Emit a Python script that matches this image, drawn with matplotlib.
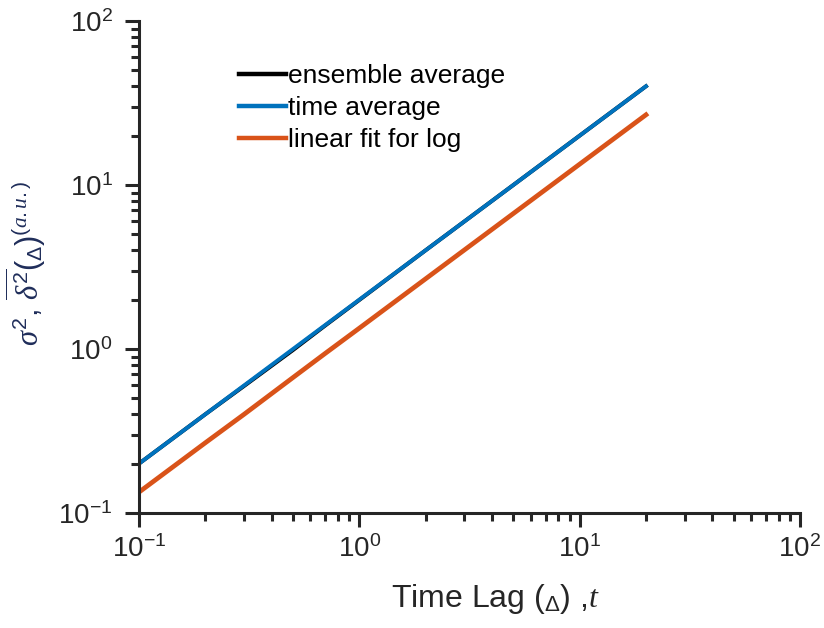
import matplotlib
matplotlib.use("Agg")
from matplotlib import pyplot as plt

# Values
time_lag = [0.1, 0.2, 0.3, 0.5, 0.7, 1.0, 2.0, 5.0, 10.0, 20.0]
ensemble_avg = [0.2, 0.40, 0.595, 0.985, 1.39, 1.99, 4.0, 10.0, 20.0, 40.0]
time_avg = [0.2, 0.40, 0.60, 1.0, 1.40, 2.0, 4.0, 10.0, 20.0, 40.0]
linear_fit = [0.134, 0.268, 0.40, 0.67, 0.94, 1.34, 2.68, 6.7, 13.4, 26.8]

series_labels = ["ensemble average", "time average", "linear fit for log"]
series_colors = ["black", "#0072BD", "#D95319"]

plt.rcParams["font.family"] = ["Liberation Sans", "DejaVu Sans"]
plt.rcParams["mathtext.fontset"] = "custom"
plt.rcParams["mathtext.rm"] = "Liberation Sans"
plt.rcParams["mathtext.it"] = "Liberation Serif:italic"
plt.rcParams["mathtext.bf"] = "Liberation Sans:bold"

fig_w_px, fig_h_px, dpi = 824, 628, 100
fig = plt.figure(figsize=(fig_w_px / dpi, fig_h_px / dpi), dpi=dpi)

# axes box in pixels: left, right, top, bottom
left_px, right_px, top_px, bottom_px = 139, 800, 21, 513
ax = fig.add_axes((
    left_px / fig_w_px,
    (fig_h_px - bottom_px) / fig_h_px,
    (right_px - left_px) / fig_w_px,
    (bottom_px - top_px) / fig_h_px,
))

ax.plot(time_lag, ensemble_avg, color=series_colors[0], linewidth=2.8,
        label=series_labels[0])
ax.plot(time_lag, time_avg, color=series_colors[1], linewidth=2.8,
        label=series_labels[1])
ax.plot(time_lag, linear_fit, color=series_colors[2], linewidth=3.4,
        label=series_labels[2])

ax.set_xscale("log")
ax.set_yscale("log")
ax.set_xlim(0.1, 100)
ax.set_ylim(0.1, 100)

# MATLAB-like box off, thick axes
for side in ("top", "right"):
    ax.spines[side].set_visible(False)
for side in ("left", "bottom"):
    ax.spines[side].set_linewidth(2.2)
    ax.spines[side].set_color("#262626")

ax.tick_params(which="major", direction="out", length=10, width=2.2,
               labelsize=20, colors="#262626")
ax.tick_params(which="minor", direction="out", length=5.5, width=2.2,
               colors="#262626")
ax.tick_params(axis="x", which="major", pad=6)
ax.tick_params(axis="y", which="major", pad=9)

leg = ax.legend(loc="upper left", bbox_to_anchor=(0.151, 0.912), frameon=False,
                fontsize=19, handlelength=1.8, handletextpad=0.08,
                labelspacing=0.3, borderaxespad=0, borderpad=0)
for line in leg.get_lines():
    line.set_linewidth(3.2)

fig.text(495 / fig_w_px, 1 - 599 / fig_h_px,
         r"Time Lag $\mathit{(}_{\mathrm{\Delta}}\mathit{)}$ ,$t$",
         ha="center", va="center", fontsize=23, color="#262626")

fig.text(26 / fig_w_px, 1 - 263 / fig_h_px,
         r"$\sigma^2$, $\overline{\delta^2}(_{\Delta})$${}^{(a.u.)}$",
         ha="center", va="center", rotation=90, fontsize=22,
         color="#1f2d5a")

fig.savefig("out.png", dpi=dpi)
